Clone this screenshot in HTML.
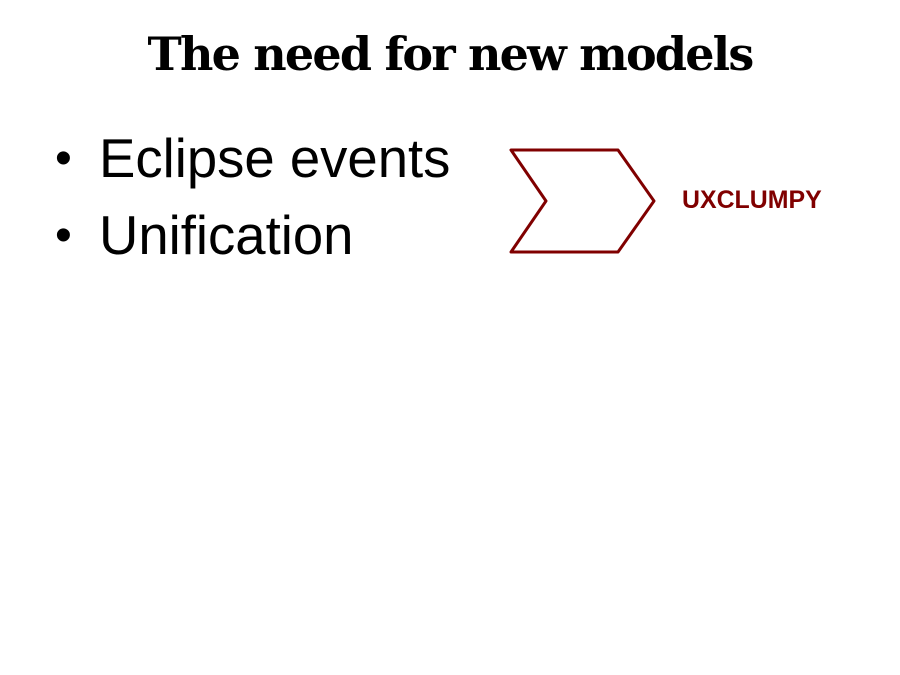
<!DOCTYPE html>
<html><head><meta charset="utf-8"><style>
html,body{margin:0;padding:0;background:#fff;width:900px;height:675px;overflow:hidden;position:relative}
.t{position:absolute;left:0;width:900px;top:27px;text-align:center;font-family:"DejaVu Serif","Liberation Serif",serif;font-weight:bold;font-size:46px;letter-spacing:-1.8px;color:#000}
.b{position:absolute;left:55px;font-family:"Liberation Sans",sans-serif;font-size:54.5px;color:#000}
.b span{display:inline-block;width:44px;font-size:48px;position:relative;top:-3px}
.u{position:absolute;left:682px;top:186px;font-family:"Liberation Sans",sans-serif;font-weight:bold;font-size:24.9px;color:#800000}
</style></head><body>
<div class="t">The need for new models</div>
<div class="b" style="top:127px"><span>•</span>Eclipse events</div>
<div class="b" style="top:204px"><span>•</span>Unification</div>
<svg style="position:absolute;left:0;top:0" width="900" height="675">
<polygon points="511,150 618,150 654,201 618,252 511,252 546,201" fill="none" stroke="#800000" stroke-width="3" stroke-linejoin="round"/>
</svg>
<div class="u">UXCLUMPY</div>
</body></html>
